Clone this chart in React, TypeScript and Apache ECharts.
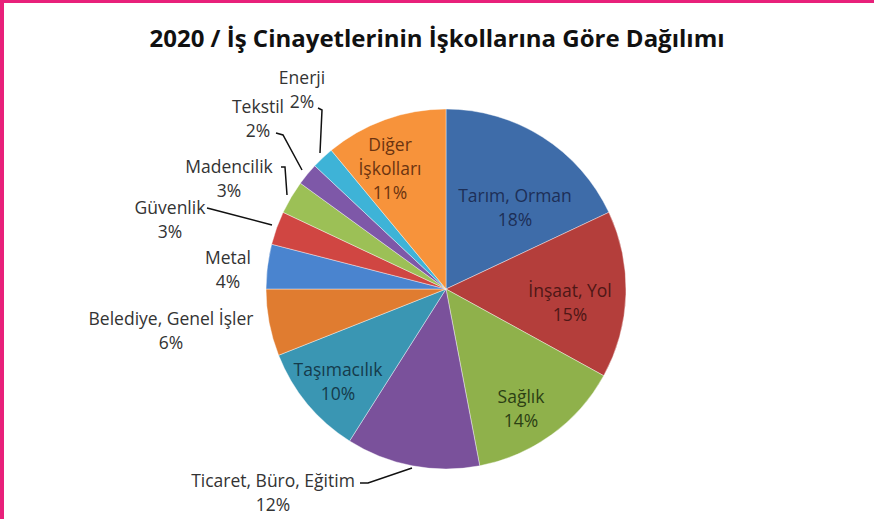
import React, { useEffect, useRef } from "react";
import * as echarts from "echarts";

const TITLE = "2020 / İş Cinayetlerinin İşkollarına Göre Dağılımı";
const categories = [
  "Tarım, Orman",
  "İnşaat, Yol",
  "Sağlık",
  "Ticaret, Büro, Eğitim",
  "Taşımacılık",
  "Belediye, Genel İşler",
  "Metal",
  "Güvenlik",
  "Madencilik",
  "Tekstil",
  "Enerji",
  "Diğer İşkolları",
];
const values = [18, 15, 14, 12, 10, 6, 4, 3, 3, 2, 2, 11];
const labelTexts = [
  "Tarım, Orman\n18%",
  "İnşaat, Yol\n15%",
  "Sağlık\n14%",
  "Ticaret, Büro, Eğitim\n12%",
  "Taşımacılık\n10%",
  "Belediye, Genel İşler\n6%",
  "Metal\n4%",
  "Güvenlik\n3%",
  "Madencilik\n3%",
  "Tekstil\n2%",
  "Enerji\n2%",
  "Diğer\nİşkolları\n11%",
];

// styles / layout
const colors = [
  "#3E6CA9", "#B43E3B", "#8FB14B", "#7A519B", "#3A96B3", "#E07C30",
  "#4A84CF", "#D04642", "#9CC056", "#7E58A8", "#3EB3D7", "#F7933B",
];
const labelColors = [
  "#1d2f57", "#4e1716", "#2c3f14", "#333", "#153b4b", "#333",
  "#333", "#333", "#333", "#333", "#333", "#6b3310",
];
const inside = [true, true, true, false, true, false, false, false, false, false, false, true];
const labelPos: [number, number][] = [
  [515, 207], [570, 302], [521, 408], [273, 492], [338, 381], [171, 330],
  [228, 269], [170, 219], [229, 178], [258, 118], [302, 89], [390, 168],
];
const linePts: (number[][] | null)[] = [
  null, null, null,
  [[360, 483], [368, 483], [412, 468]],
  null, null, null,
  [[207, 208], [211, 209], [272, 225]],
  [[281, 167], [285, 167], [287, 195]],
  [[276, 133], [283, 135], [302, 170]],
  [[318, 108], [322, 110], [320, 153]],
  null,
];

export default function App() {
  const ref = useRef<HTMLDivElement>(null);
  useEffect(() => {
    document.body.style.margin = "0";
    const chart = echarts.init(ref.current!, null, { renderer: "svg" });
    const font = "'Open Sans', Lato, sans-serif";
    chart.setOption({
      animation: false,
      backgroundColor: "#ffffff",
      title: {
        text: TITLE,
        left: "center",
        top: 20,
        textStyle: { fontFamily: font, fontSize: 24, fontWeight: "bold", color: "#111" },
      },
      graphic: [
        { type: "rect", left: 0, top: 0, shape: { width: 874, height: 3 }, style: { fill: "#E8207A" } },
        { type: "rect", left: 0, top: 0, shape: { width: 4, height: 519 }, style: { fill: "#E8207A" } },
      ],
      series: [
        {
          type: "pie",
          center: [446, 289],
          radius: 180,
          startAngle: 90,
          clockwise: true,
          avoidLabelOverlap: false,
          itemStyle: { borderColor: "rgba(255,255,255,0.5)", borderWidth: 0.8 },
          labelLayout: (p: any) => {
            const i = p.dataIndex;
            const r: any = { x: labelPos[i][0], y: labelPos[i][1], align: "center", verticalAlign: "middle" };
            if (linePts[i]) r.labelLinePoints = linePts[i];
            return r;
          },
          data: categories.map((c, i) => ({
            name: c,
            value: values[i],
            itemStyle: { color: colors[i] },
            label: {
              show: true,
              position: inside[i] ? "inside" : "outside",
              formatter: labelTexts[i],
              fontFamily: font,
              fontSize: 17.5,
              lineHeight: 24,
              color: labelColors[i],
              align: "center",
            },
            labelLine: {
              show: !!linePts[i],
              lineStyle: { color: "#111", width: 1.5 },
            },
          })),
        },
      ],
    });
    return () => chart.dispose();
  }, []);
  return <div ref={ref} style={{ width: 874, height: 519 }} />;
}
